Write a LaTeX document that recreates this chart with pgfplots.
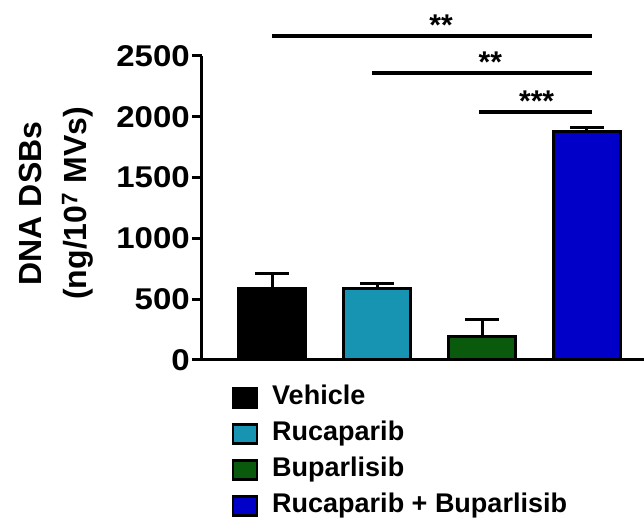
\documentclass[border=0pt]{standalone}
\usepackage{fontspec}
\setmainfont{Liberation Sans}
\newfontfamily\tickfont{Liberation Sans}[FakeStretch=1.1]
\usepackage{pgfplots}
\pgfplotsset{compat=1.18}
\definecolor{cveh}{RGB}{0,0,0}
\definecolor{cruc}{RGB}{22,148,178}
\definecolor{cbup}{RGB}{10,90,14}
\definecolor{ccomb}{RGB}{0,0,200}
\begin{document}
\begin{tikzpicture}
\begin{axis}[
  scale only axis, width=442pt, height=304pt,
  xmin=-0.667, xmax=3.543, ymin=0, ymax=2500,
  clip=false,
  axis x line=bottom, axis y line=left,
  axis line style={line width=3pt, -},
  xtick=\empty,
  ytick={0,500,1000,1500,2000,2500},
  tick align=outside,
  major tick length=10pt,
  tick style={line width=3pt, black},
  /pgf/number format/1000 sep={},
  /pgf/number format/assume math mode=true,
  yticklabel style={font=\fontsize{30}{30}\selectfont\tickfont\bfseries, inner sep=2pt},
  ylabel={DNA DSBs\\(ng/10\textsuperscript{7} MVs)},
  every axis y label/.style={at={(axis description cs:-0.238,0.515)}, rotate=90, anchor=south,
     align=center, font=\fontsize{32}{45}\selectfont\bfseries},
  legend cell align=left,
  legend style={at={(axis description cs:0.06,-0.07)}, anchor=north west, draw=none, fill=none,
     font=\fontsize{27}{27}\selectfont\bfseries, row sep=7pt,
     nodes={inner sep=2pt, text height=19pt, text depth=6pt},
     /tikz/every odd column/.append style={column sep=12pt}},
]
\addlegendimage{legend image code/.code={\draw[line width=2.5pt, draw=black, fill=cveh] (0pt,-9.5pt) rectangle (24pt,9.5pt);}}
\addlegendentry{Vehicle}
\addlegendimage{legend image code/.code={\draw[line width=2.5pt, draw=black, fill=cruc] (0pt,-9.5pt) rectangle (24pt,9.5pt);}}
\addlegendentry{Rucaparib}
\addlegendimage{legend image code/.code={\draw[line width=2.5pt, draw=black, fill=cbup] (0pt,-9.5pt) rectangle (24pt,9.5pt);}}
\addlegendentry{Buparlisib}
\addlegendimage{legend image code/.code={\draw[line width=2.5pt, draw=black, fill=ccomb] (0pt,-9.5pt) rectangle (24pt,9.5pt);}}
\addlegendentry{Rucaparib + Buparlisib}

\pgfplotsset{barstyle/.style={ybar, bar shift=0pt, bar width=0.64, draw=black, line width=3pt, forget plot,
   error bars/.cd, y dir=plus, y explicit,
   error bar style={line width=3pt, black},
   error mark options={rotate=90, line width=3pt, black, mark size=17pt}}}
\addplot[fill=cveh, barstyle] coordinates {(0,585) +- (0,130)};
\addplot[fill=cruc, barstyle] coordinates {(1,585) +- (0,40)};
\addplot[fill=cbup, barstyle] coordinates {(2,195) +- (0,142)};
\addplot[fill=ccomb, barstyle] coordinates {(3,1878) +- (0,30)};

\draw[line width=4pt] (axis cs:0,2664) -- (axis cs:3.05,2664);
\draw[line width=4pt] (axis cs:0.95,2360) -- (axis cs:3.05,2360);
\draw[line width=4pt] (axis cs:1.97,2039) -- (axis cs:3.05,2039);
\node[anchor=base, yshift=0.5pt, font=\fontsize{30}{30}\selectfont\bfseries, inner sep=0pt] at (axis cs:1.61,2664) {**};
\node[anchor=base, yshift=0.5pt, font=\fontsize{30}{30}\selectfont\bfseries, inner sep=0pt] at (axis cs:2.08,2360) {**};
\node[anchor=base, yshift=0.5pt, font=\fontsize{30}{30}\selectfont\bfseries, inner sep=0pt] at (axis cs:2.52,2039) {***};
\end{axis}
\pgfresetboundingbox
\path (-202pt,-158pt) rectangle (442pt,360pt);
\end{tikzpicture}
\end{document}
